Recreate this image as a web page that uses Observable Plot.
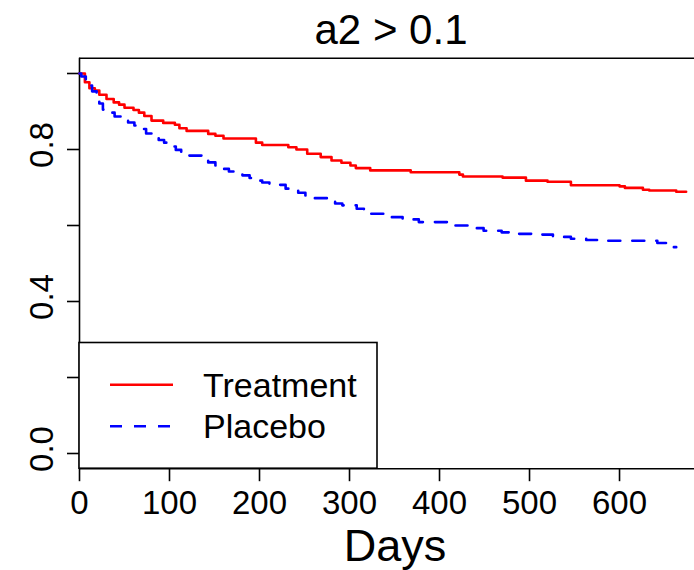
<!DOCTYPE html>
<html><head><meta charset="utf-8">
<script src="https://cdn.jsdelivr.net/npm/d3@7"></script>
<script src="https://cdn.jsdelivr.net/npm/@observablehq/plot@0.6"></script>
<style>html,body{margin:0;padding:0;background:#fff;overflow:hidden;color:#000}</style>
</head><body><div id="chart"></div>
<script>
const title = "a2 > 0.1";
const xLabel = "Days";
const groups = ["Treatment", "Placebo"];
const groupColors = ["#ff0000", "#0000ff"];
const xTicks = [0, 100, 200, 300, 400, 500, 600];
const yTicks = [0, 0.2, 0.4, 0.6, 0.8, 1.0];
const yLabelTicks = [0, 0.4, 0.8];
const yLabelText = ["0.0", "0.4", "0.8"];

const treatmentDays = [0,6,11,17,22,30,38,44,50,60,66,72,80,93,106,111,119,143,151,160,196,203,232,241,253,268,280,291,301,307,323,368,422,426,470,496,520,546,600,606,626,633,663,674];
const treatmentSurv = [1,0.977,0.961,0.955,0.944,0.933,0.924,0.918,0.910,0.904,0.897,0.888,0.876,0.870,0.865,0.856,0.849,0.841,0.836,0.829,0.818,0.812,0.806,0.800,0.789,0.780,0.771,0.765,0.758,0.751,0.745,0.740,0.734,0.729,0.726,0.718,0.715,0.706,0.703,0.699,0.694,0.692,0.689,0.689];

const placeboDays = [0,2,7,10,14,19,22,26,32,39,47,54,61,68,74,80,88,94,101,107,113,120,136,143,151,159,166,181,189,196,203,211,229,237,243,251,259,276,284,292,308,316,323,340,359,377,414,432,449,469,488,507,526,546,563,583,642,652,658,663];
const placeboSurv = [1,0.992,0.979,0.968,0.953,0.937,0.921,0.905,0.897,0.887,0.879,0.871,0.863,0.854,0.842,0.832,0.825,0.818,0.808,0.799,0.792,0.784,0.776,0.766,0.758,0.749,0.742,0.732,0.725,0.718,0.713,0.707,0.697,0.692,0.686,0.679,0.672,0.664,0.658,0.653,0.644,0.637,0.631,0.622,0.616,0.609,0.600,0.593,0.586,0.582,0.578,0.576,0.570,0.565,0.562,0.560,0.554,0.549,0.543,0.543];

const treatment = treatmentDays.map((d, i) => ({days: d, surv: treatmentSurv[i]}));
const placebo = placeboDays.map((d, i) => ({days: d, surv: placeboSurv[i]}));
const yLabels = yLabelTicks.map((v, i) => ({v, t: yLabelText[i]}));

const xDomain = [0, 683.3];
const yDomain = [-0.04, 1.04];
const FONT = "Liberation Sans, Arial, Helvetica, sans-serif";

const plot = Plot.plot({
  width: 694,
  height: 570,
  marginLeft: 79,
  marginRight: 0,
  marginTop: 57.8,
  marginBottom: 101.8,
  style: {fontFamily: FONT, background: "#fff", overflow: "visible", color: "#000"},
  x: {domain: xDomain},
  y: {domain: yDomain},
  marks: [
    Plot.ruleY(yDomain, {stroke: "#000", strokeWidth: 1.6}),
    Plot.ruleX([xDomain[0]], {stroke: "#000", strokeWidth: 1.6}),
    Plot.axisX({ticks: xTicks, tickSize: 13, tickPadding: 8.4, fontSize: 33, label: null, strokeWidth: 1.6}),
    Plot.axisY({ticks: yTicks, tickSize: 12, tickFormat: () => "", label: null, strokeWidth: 1.6}),
    Plot.text(yLabels, {y: "v", text: "t", frameAnchor: "left", rotate: -90, textAnchor: "middle", lineAnchor: "bottom", dx: -27, dy: -4.5, fontSize: 33}),
    Plot.line(treatment, {x: "days", y: "surv", curve: "step-after", stroke: groupColors[0], strokeWidth: 2.6}),
    Plot.line(placebo, {x: "days", y: "surv", curve: "step-after", stroke: groupColors[1], strokeWidth: 2.6, strokeDasharray: "12,12"}),
    Plot.text([title], {text: d => d, frameAnchor: "top", dx: 4, dy: -14.8, lineAnchor: "bottom", fontSize: 42}),
    Plot.text([xLabel], {text: d => d, frameAnchor: "bottom", dx: 8, dy: 91.8, lineAnchor: "bottom", fontSize: 45})
  ]
});

// legend (bottom-left of plot region, like R's legend("bottomleft"))
const sx = plot.scale("x"), sy = plot.scale("y");
const lx = sx.apply(xDomain[0]);
const ly = sy.apply(yDomain[0]);
const boxW = 298, boxH = 125.7;
const svg = d3.select(plot);
const g = svg.append("g").attr("font-family", FONT).attr("text-anchor", "start");
g.append("rect").attr("x", lx).attr("y", ly - boxH).attr("width", boxW).attr("height", boxH)
  .attr("fill", "#fff").attr("stroke", "#000").attr("stroke-width", 1.6);
const rowY = [ly - boxH + 42.3, ly - boxH + 83.7];
const dash = [null, "12,12"];
groups.forEach((name, i) => {
  g.append("line").attr("x1", lx + 31).attr("x2", lx + 94).attr("y1", rowY[i]).attr("y2", rowY[i])
    .attr("stroke", groupColors[i]).attr("stroke-width", 2.6).attr("stroke-dasharray", dash[i]);
  g.append("text").attr("x", lx + 124).attr("y", rowY[i] + 12.2).attr("font-size", 34)
    .attr("text-anchor", "start").attr("fill", "#000").text(name);
});

document.getElementById("chart").appendChild(plot);
</script>
</body></html>
